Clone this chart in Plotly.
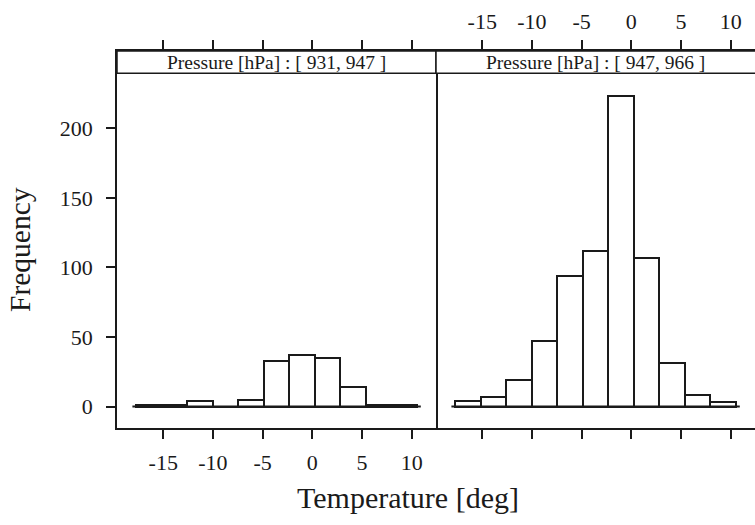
import plotly.graph_objects as go

# ---- data ----
bin_edges = [-17.7, -15.14, -12.57, -10.01, -7.44, -4.88, -2.31, 0.25, 2.82, 5.38, 7.95, 10.51]
counts_low = [1, 1, 4, 0, 5, 33, 37, 35, 14, 1, 1]        # Pressure [931, 947]
counts_high = [4, 7, 19, 47, 94, 112, 223, 107, 31, 8, 3]  # Pressure [947, 966]
strip_labels = ["Pressure [hPa] : [ 931, 947 ]", "Pressure [hPa] : [ 947, 966 ]"]
x_ticks = [-15, -10, -5, 0, 5, 10]
x_tick_labels = ["-15", "-10", "-5", "0", "5", "10"]
y_ticks = [0, 50, 100, 150, 200]
y_tick_labels = ["0", "50", "100", "150", "200"]
x_title = "Temperature [deg]"
y_title = "Frequency"

centers = [(a + b) / 2 for a, b in zip(bin_edges[:-1], bin_edges[1:])]
widths = [b - a for a, b in zip(bin_edges[:-1], bin_edges[1:])]

FONT = "Liberation Serif"
INK = "#1a1a1a"
W, H = 755, 525
ML, MR, MT = 117, 0, 51
plot_bottom = 428
MB = H - plot_bottom
plot_w = W - ML - MR
plot_h = H - MT - MB
strip_bottom_px = 73.3
strip_y0 = (plot_bottom - strip_bottom_px) / plot_h

XR = [-19.65, 12.44]
YR = [-15.46, 255.6]

fig = go.Figure()
for i, counts in enumerate([counts_low, counts_high]):
    xa = "x" if i == 0 else "x2"
    ya = "y" if i == 0 else "y2"
    fig.add_trace(go.Scatter(
        x=[bin_edges[0] - 0.4, bin_edges[-1] + 0.4], y=[0, 0], mode="lines",
        line=dict(color=INK, width=2), xaxis=xa, yaxis=ya, showlegend=False, hoverinfo="skip"))
    fig.add_trace(go.Bar(
        x=centers, y=counts, width=widths, xaxis=xa, yaxis=ya,
        marker=dict(color="white", line=dict(color=INK, width=2)),
        showlegend=False))

tickfont = dict(family=FONT, size=22, color=INK)
common_x = dict(range=XR, tickvals=x_ticks, ticktext=x_tick_labels, ticks="outside",
                ticklen=9, tickwidth=1.5, tickcolor=INK, showline=True, linecolor=INK,
                linewidth=1.5, showgrid=False, zeroline=False, tickfont=tickfont,
                mirror="ticks")
fig.update_layout(
    width=W, height=H,
    margin=dict(l=ML, r=MR, t=MT, b=MB),
    paper_bgcolor="white", plot_bgcolor="white",
    bargap=0,
    xaxis=dict(domain=[0, 0.5], side="bottom", anchor="y", ticklabelstandoff=5, **common_x),
    xaxis2=dict(domain=[0.5, 1], side="top", anchor="y2", ticklabelstandoff=2, **common_x),
    yaxis=dict(domain=[0, 1], range=YR, tickvals=y_ticks, ticktext=y_tick_labels,
               ticks="outside", ticklen=9, tickwidth=1.5, tickcolor=INK, showline=True,
               linecolor=INK, linewidth=1.5, mirror=True, showgrid=False, zeroline=False,
               tickfont=tickfont, ticklabelstandoff=9, anchor="x"),
    yaxis2=dict(domain=[0, 1], range=YR, showticklabels=False, ticks="", showline=False,
                showgrid=False, zeroline=False, anchor="x2"),
)

shapes = []
annotations = []
for i, lab in enumerate(strip_labels):
    x0 = 0 if i == 0 else 0.5
    x1 = 0.5 if i == 0 else 1.003
    shapes.append(dict(type="rect", xref="paper", yref="paper", x0=x0, x1=x1,
                       y0=strip_y0, y1=1, fillcolor="white",
                       line=dict(color=INK, width=1.5), layer="above"))
    annotations.append(dict(text=lab, xref="paper", yref="paper",
                            x=0.25 if i == 0 else 0.75, y=(strip_y0 + 1) / 2,
                            showarrow=False, xanchor="center", yanchor="middle",
                            font=dict(family=FONT, size=19.5, color=INK)))
annotations.append(dict(text=x_title, xref="paper", yref="paper",
                        x=(408 - ML) / plot_w, y=(plot_bottom - 497) / plot_h,
                        showarrow=False, xanchor="center", yanchor="middle",
                        font=dict(family=FONT, size=30, color=INK)))
annotations.append(dict(text=y_title, xref="paper", yref="paper", textangle=-90,
                        x=(20 - ML) / plot_w, y=(plot_bottom - 250) / plot_h,
                        showarrow=False, xanchor="center", yanchor="middle",
                        font=dict(family=FONT, size=29.5, color=INK)))
fig.update_layout(shapes=shapes, annotations=annotations)

fig.write_html("out.html", config={"displayModeBar": False},
               post_script="document.body.style.margin='0';")
